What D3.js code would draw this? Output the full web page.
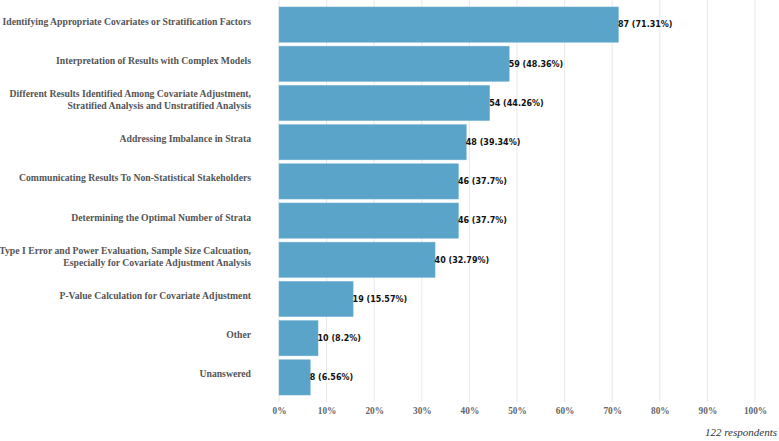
<!DOCTYPE html>
<meta charset="utf-8">
<body style="margin:0;background:#fff">
<script src="https://cdn.jsdelivr.net/npm/d3@7"></script>
<script>

var width = 779,
  height = 441;

var serif = "Liberation Serif";
var sans = "DejaVu Sans";

var categories = [
  ["Identifying Appropriate Covariates or Stratification Factors"],
  ["Interpretation of Results with Complex Models"],
  ["Different Results Identified Among Covariate Adjustment,", "Stratified Analysis and Unstratified Analysis"],
  ["Addressing Imbalance in Strata"],
  ["Communicating Results To Non-Statistical Stakeholders"],
  ["Determining the Optimal Number of Strata"],
  ["Type I Error and Power Evaluation, Sample Size Calcuation,", "Especially for Covariate Adjustment Analysis"],
  ["P-Value Calculation for Covariate Adjustment"],
  ["Other"],
  ["Unanswered"]
];
var counts = [87, 59, 54, 48, 46, 46, 40, 19, 10, 8];
var totalRespondents = 122;
var tickValues = [0, 10, 20, 30, 40, 50, 60, 70, 80, 90, 100];

var pct = counts.map(function(c) { return Math.round(c / totalRespondents * 10000) / 100; });

var svg = d3.select("body").append("svg")
  .attr("width", width)
  .attr("height", height);

var x = d3.scaleLinear().domain([0, 100]).range([279, 755]);
var y = d3.scaleBand()
  .domain(d3.range(categories.length))
  .range([5, 397])
  .paddingInner(0.1)
  .paddingOuter(0.05);

// grid
svg.append("g").selectAll("line")
  .data(tickValues)
  .enter().append("line")
  .attr("x1", d => x(d)).attr("x2", d => x(d))
  .attr("y1", 0).attr("y2", 402)
  .attr("stroke", "#e8e8e8")
  .attr("stroke-width", 1);

// axis labels
var axis = svg.append("g")
  .attr("transform", "translate(0,400)")
  .call(d3.axisBottom(x).tickValues(tickValues).tickFormat(d => d + "%").tickSize(0).tickPadding(7));
axis.select(".domain").remove();
axis.attr("font-family", serif).attr("font-size", 9.3).attr("font-weight", "bold");
axis.selectAll("text").attr("fill", "#666");

// bars
svg.append("g").selectAll("rect")
  .data(pct)
  .enter().append("rect")
  .attr("x", x(0))
  .attr("y", (d, i) => y(i))
  .attr("width", d => x(d) - x(0))
  .attr("height", y.bandwidth())
  .attr("fill", "#5aa3c9")
  .attr("stroke", "#7ab6d6")
  .attr("stroke-width", 0.5);

// value labels
svg.append("g")
  .attr("font-family", sans)
  .attr("font-weight", "bold")
  .attr("font-size", 8)
  .attr("fill", "#111")
  .selectAll("text")
  .data(pct)
  .enter().append("text")
  .attr("x", d => x(d) - 0.5)
  .attr("y", (d, i) => y(i) + y.bandwidth() / 2)
  .attr("dy", "0.35em")
  .text((d, i) => counts[i] + " (" + d + "%)");

// category labels
var cat = svg.append("g")
  .attr("font-family", serif)
  .attr("font-weight", "bold")
  .attr("font-size", 9.7)
  .attr("fill", "#555")
  .selectAll("text")
  .data(categories)
  .enter().append("text")
  .attr("text-anchor", "end")
  .attr("x", 251)
  .attr("y", (d, i) => y(i) + y.bandwidth() / 2 - (d.length - 1) * 6.3)
  .attr("dy", "0.35em");

cat.selectAll("tspan")
  .data(d => d)
  .enter().append("tspan")
  .attr("x", 251)
  .attr("dy", (d, i) => i ? 12.6 : 0)
  .text(d => d);

svg.append("text")
  .attr("text-anchor", "end")
  .attr("x", 777)
  .attr("y", 436)
  .attr("font-family", serif)
  .attr("font-style", "italic")
  .attr("font-size", 11)
  .attr("fill", "#333")
  .text(totalRespondents + " respondents");

</script>
</body>
